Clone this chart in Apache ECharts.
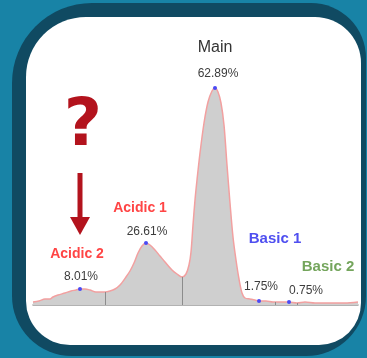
<!DOCTYPE html>
<html>
<head>
<meta charset="utf-8">
<script src="https://cdn.jsdelivr.net/npm/echarts@6/dist/echarts.min.js"></script>
<style>
  html, body { margin: 0; padding: 0; background: #1883a6; }
  #chart { width: 367px; height: 358px; }
</style>
</head>
<body>
<div id="chart"></div>
<script>
// Charge-variant trace: retention time (min) and detector response (mAU)
const time   = [0, 1.2, 2.4, 3.4, 4, 5, 6.4, 7.6, 8.6, 9.4, 10.4, 11.4, 12.6, 13.6, 14.4, 15.4, 16.4, 17.4, 18.6, 19.4,
                20.2, 21, 21.8, 22.6, 23.4, 24.4, 25.4, 26.4, 27.8, 28.8, 29.8, 30.6, 31.2, 31.6, 32, 32.4, 32.8, 33.4, 34.2, 35,
                35.8, 36.4, 37, 37.6, 38.2, 38.8, 39.4, 40, 40.6, 41.2, 41.8, 42.4, 43.4, 44.4, 45.2, 46.6, 48, 49.4, 51.2, 52.8,
                54.4, 56.4, 58.4, 60.4, 62.4, 65];
const signal = [1.5, 2, 3, 3, 4, 5, 6, 7, 7.5, 8, 8, 7.5, 6.5, 6.5, 6.5, 7, 8, 10, 14, 17,
                21, 26, 29.5, 31, 30, 27.5, 24.5, 21.5, 17.5, 15.5, 14, 15.5, 20, 26.5, 40, 52.5, 62.5, 76, 91, 101.5,
                107, 108.5, 106.5, 101, 90, 70, 51, 34, 22.5, 13, 6, 3.5, 3, 2.5, 2, 2, 1.5, 1.5, 1.5, 1,
                1.5, 1, 1, 1, 1, 1.5];

// Integrated peaks
const peakNames  = ['Acidic 2', 'Acidic 1', 'Main', 'Basic 1', 'Basic 2'];
const peakTime   = [9.4, 22.6, 36.4, 45.2, 51.2];
const peakHeight = [8, 31, 108.5, 2, 1.5];
const peakArea   = [8.01, 26.61, 62.89, 1.75, 0.75];

// Integration split points (drop lines to the baseline)
const splitTime   = [14.4, 29.8, 48.4, 52.8];
const splitHeight = [6.5, 14, 1.5, 1];

// Label styling per peak
const nameColor   = ['#ff4545', '#ff4545', '#333333', '#4f4ff0', '#74a55c'];
const nameSize    = [14, 14, 16, 15, 15];
const nameWeight  = ['bold', 'bold', 'normal', 'bold', 'bold'];
const nameOffset  = [[-3, -35], [-6, -35], [0, -40], [16, -62], [39, -35]];
const areaOffset  = [[1, -12], [1, -11], [3, -14], [2, -14], [17, -11]];

const chart = echarts.init(document.getElementById('chart'), null, { renderer: 'canvas' });

const trace = time.map((t, i) => [t, signal[i]]);

const markers = [];
peakNames.forEach((name, i) => {
  markers.push({
    coord: [peakTime[i], peakHeight[i]],
    symbol: 'circle',
    symbolSize: 4,
    itemStyle: { color: '#4a4af5' },
    label: {
      show: true, position: 'inside', offset: areaOffset[i],
      formatter: peakArea[i].toFixed(2) + '%',
      color: '#3c3c3c', fontSize: 12, fontFamily: 'Liberation Sans'
    }
  });
  markers.push({
    coord: [peakTime[i], peakHeight[i]],
    symbol: 'circle',
    symbolSize: 0,
    label: {
      show: true, position: 'inside', offset: nameOffset[i],
      formatter: name,
      color: nameColor[i], fontSize: nameSize[i], fontWeight: nameWeight[i],
      fontFamily: 'Liberation Sans'
    }
  });
});

const drops = splitTime.map((t, i) => [{ coord: [t, 0] }, { coord: [t, splitHeight[i]] }]);

// Rounded card frame behind the plot
const frame = [
  { type: 'rect', z: -10, shape: { x: 12, y: 3, width: 354, height: 353, r: [80, 55, 60, 60] },
    style: { fill: '#104a62' } },
  { type: 'rect', z: -9, shape: { x: 26, y: 17, width: 335, height: 328, r: [60, 46, 42, 44] },
    style: { fill: '#ffffff' } }
];

chart.setOption({
  animation: false,
  backgroundColor: '#1883a6',
  grid: { left: 33, right: 9, top: 85, bottom: 53 },
  xAxis: {
    type: 'value', min: 0, max: 65,
    axisLine: { show: true, lineStyle: { color: '#999999', width: 1.5 } },
    axisTick: { show: false }, axisLabel: { show: false }, splitLine: { show: false }
  },
  yAxis: {
    type: 'value', min: 0, max: 110, show: false
  },
  graphic: frame,
  series: [{
    type: 'line',
    data: trace,
    smooth: 0.3,
    showSymbol: false,
    lineStyle: { color: '#f2a0a0', width: 1.5 },
    areaStyle: { color: '#cfcfcf', opacity: 1 },
    markLine: {
      silent: true, symbol: 'none', label: { show: false },
      lineStyle: { color: '#8c8c8c', width: 1, type: 'solid' },
      data: drops
    },
    markPoint: { silent: true, data: markers }
  }]
});

// Question mark and arrow pointing down at the Acidic 2 peak
const p = chart.convertToPixel({ seriesIndex: 0 }, [peakTime[0], peakHeight[0]]);
const arrowColor = '#b3131d';
chart.setOption({
  graphic: frame.concat([
    { type: 'text', z: 10, x: p[0] + 3, y: p[1] - 161,
      style: { text: '?', fill: arrowColor, font: 'bold 66px "DejaVu Sans"', align: 'center', verticalAlign: 'middle' } },
    { type: 'rect', z: 10, shape: { x: p[0] - 2.5, y: p[1] - 116, width: 5, height: 46 },
      style: { fill: arrowColor } },
    { type: 'polygon', z: 10,
      shape: { points: [[p[0] - 10, p[1] - 72], [p[0] + 10, p[1] - 72], [p[0], p[1] - 54]] },
      style: { fill: arrowColor } }
  ])
});
</script>
</body>
</html>
